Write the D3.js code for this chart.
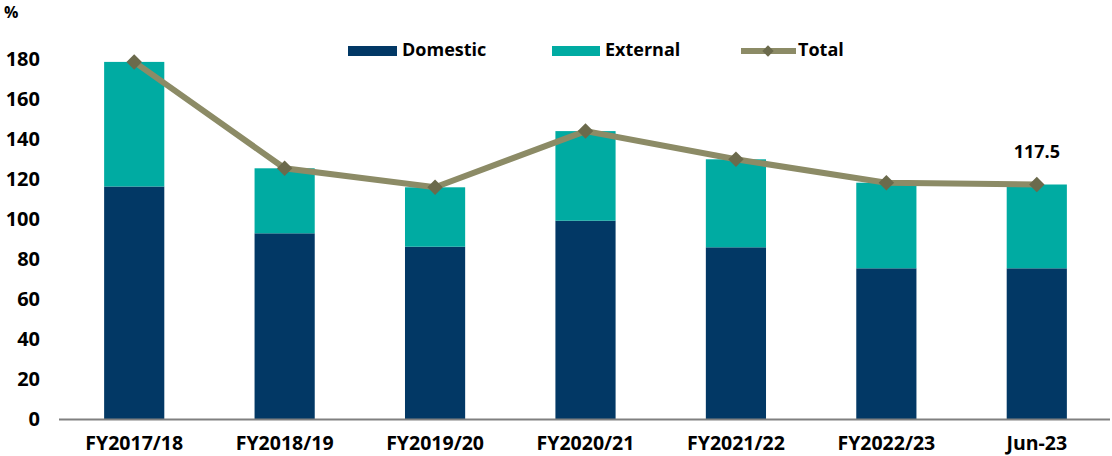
<!DOCTYPE html>
<html>
<head>
<meta charset="utf-8">
<script src="https://cdn.jsdelivr.net/npm/d3@7"></script>
<style>
  body { margin: 0; background: #fff; }
  svg text { font-family: "Open Sans", sans-serif; font-weight: 700; fill: #000; }
</style>
</head>
<body>
<svg id="chart"></svg>
<script>
// Chart data
const categories = ["FY2017/18", "FY2018/19", "FY2019/20", "FY2020/21", "FY2021/22", "FY2022/23", "Jun-23"];
const domestic = [116.5, 93.1, 86.4, 99.4, 86.1, 75.6, 75.6];
const external = [62.3, 32.5, 29.7, 44.8, 44.0, 42.8, 41.9];
const total = [178.8, 125.6, 116.1, 144.2, 130.1, 118.4, 117.5];
const yTicks = [0, 20, 40, 60, 80, 100, 120, 140, 160, 180];

const width = 1112, height = 456;
const svg = d3.select("#chart").attr("width", width).attr("height", height);

const x = d3.scaleBand()
  .domain(categories)
  .range([59, 1112])
  .paddingInner(0.6)
  .paddingOuter(0.3);

const y = d3.scaleLinear()
  .domain([0, 180])
  .range([419.5, 59.5]);

// Stacked bars
const rows = categories.map((c, i) => ({ cat: c, Domestic: domestic[i], External: external[i] }));
const stack = d3.stack().keys(["Domestic", "External"]);
const colors = { Domestic: "#023865", External: "#00aba2" };

svg.append("g").selectAll("g")
  .data(stack(rows))
  .join("g")
  .attr("fill", d => colors[d.key])
  .selectAll("rect")
  .data(d => d)
  .join("rect")
  .attr("x", d => x(d.data.cat))
  .attr("width", x.bandwidth())
  .attr("y", d => y(d[1]))
  .attr("height", d => y(d[0]) - y(d[1]));

// Y axis labels (no line)
const yAxis = svg.append("g")
  .attr("transform", "translate(40,0)")
  .call(d3.axisLeft(y).tickValues(yTicks).tickSize(0).tickPadding(0));
yAxis.select(".domain").remove();
yAxis.selectAll("text")
  .attr("font-size", 20)
  .attr("font-family", "'Open Sans', sans-serif")
  .attr("font-weight", 700);

// X axis
const xAxis = svg.append("g")
  .attr("transform", `translate(0,${y(0)})`)
  .call(d3.axisBottom(x).tickSize(0).tickPadding(0));
xAxis.select(".domain")
  .attr("stroke", "#808080")
  .attr("stroke-width", 2)
  .attr("d", "M59,0H1110");
xAxis.selectAll("text")
  .attr("dy", null)
  .attr("y", 30)
  .attr("font-size", 19.5)
  .attr("font-family", "'Open Sans', sans-serif")
  .attr("font-weight", 700);

// Total line
const cx = d => x(d.cat) + x.bandwidth() / 2;
const pts = categories.map((c, i) => ({ cat: c, v: total[i] }));
svg.append("path")
  .datum(pts)
  .attr("fill", "none")
  .attr("stroke", "#8c8b66")
  .attr("stroke-width", 6)
  .attr("d", d3.line().x(cx).y(d => y(d.v)));

const diamond = d3.symbol().type(d3.symbolSquare).size(120);
svg.append("g").selectAll("path")
  .data(pts)
  .join("path")
  .attr("fill", "#6b6a4c")
  .attr("transform", d => `translate(${cx(d)},${y(d.v)}) rotate(45)`)
  .attr("d", diamond);

// Data label for last point
const last = pts[pts.length - 1];
svg.append("text")
  .attr("x", cx(last))
  .attr("y", 157.5)
  .attr("text-anchor", "middle")
  .attr("font-size", 18)
  .text(d3.format(".1f")(last.v));

// Unit label
svg.append("text")
  .attr("x", 4)
  .attr("y", 18)
  .attr("font-size", 16)
  .text("%");

// Legend
const legend = svg.append("g");
legend.append("rect").attr("x", 348).attr("y", 46).attr("width", 49).attr("height", 10).attr("fill", colors.Domestic);
legend.append("text").attr("x", 402).attr("y", 56).attr("font-size", 18).text("Domestic");
legend.append("rect").attr("x", 552).attr("y", 46).attr("width", 48).attr("height", 10).attr("fill", colors.External);
legend.append("text").attr("x", 605).attr("y", 56).attr("font-size", 18).text("External");
legend.append("line").attr("x1", 741).attr("x2", 796).attr("y1", 51).attr("y2", 51)
  .attr("stroke", "#8c8b66").attr("stroke-width", 6);
legend.append("path").attr("fill", "#6b6a4c")
  .attr("transform", "translate(768,51) rotate(45)")
  .attr("d", d3.symbol().type(d3.symbolSquare).size(64)());
legend.append("text").attr("x", 798).attr("y", 56).attr("font-size", 18).text("Total");
</script>
</body>
</html>
